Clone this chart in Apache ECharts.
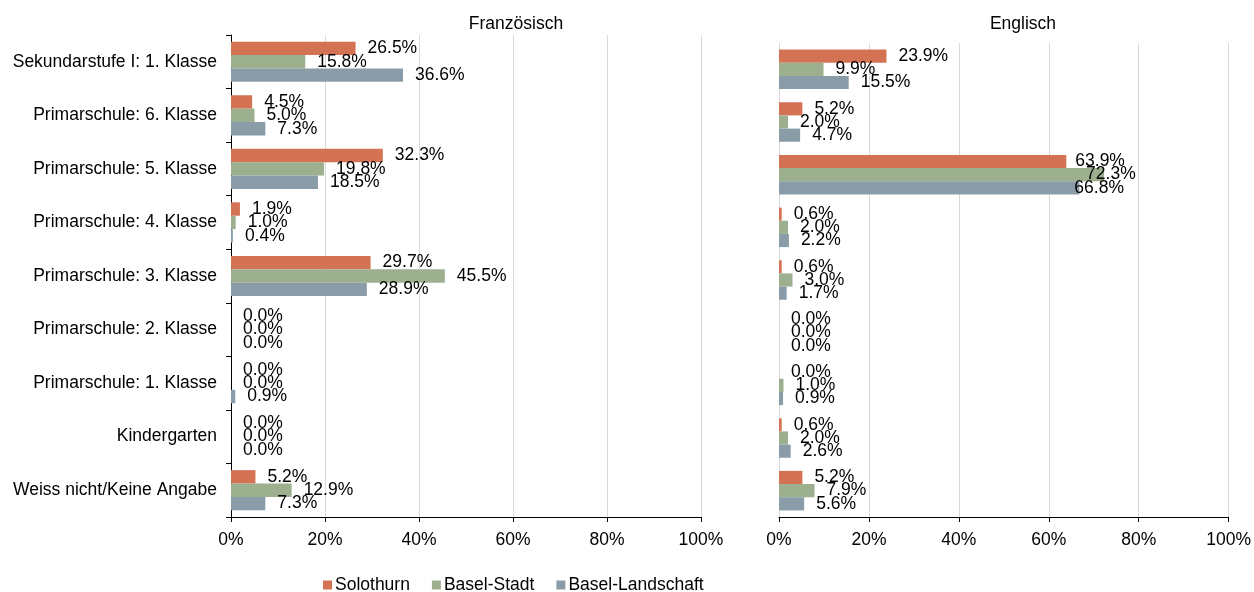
<!DOCTYPE html>
<html>
<head>
    <meta charset="utf-8">
    <title>Französisch / Englisch</title>
    <script src="https://cdn.jsdelivr.net/npm/echarts@6/dist/echarts.min.js"></script>
</head>
<body style="margin:0">
    <div id="main" style="width: 1254px;height:592px;"></div>
    <script type="text/javascript">
        var categories = [
            'Sekundarstufe I: 1. Klasse',
            'Primarschule: 6. Klasse',
            'Primarschule: 5. Klasse',
            'Primarschule: 4. Klasse',
            'Primarschule: 3. Klasse',
            'Primarschule: 2. Klasse',
            'Primarschule: 1. Klasse',
            'Kindergarten',
            'Weiss nicht/Keine Angabe'
        ];
        var regions = ['Solothurn', 'Basel-Stadt', 'Basel-Landschaft'];
        var colors = ['#d47254', '#9cb08f', '#899ca8'];
        var xTicks = [0, 20, 40, 60, 80, 100];

        // Französisch
        var frSolothurn = [26.5, 4.5, 32.3, 1.9, 29.7, 0.0, 0.0, 0.0, 5.2];
        var frBaselStadt = [15.8, 5.0, 19.8, 1.0, 45.5, 0.0, 0.0, 0.0, 12.9];
        var frBaselLand = [36.6, 7.3, 18.5, 0.4, 28.9, 0.0, 0.9, 0.0, 7.3];

        // Englisch
        var enSolothurn = [23.9, 5.2, 63.9, 0.6, 0.6, 0.0, 0.0, 0.6, 5.2];
        var enBaselStadt = [9.9, 2.0, 72.3, 2.0, 3.0, 0.0, 1.0, 2.0, 7.9];
        var enBaselLand = [15.5, 4.7, 66.8, 2.2, 1.7, 0.0, 0.9, 2.6, 5.6];

        var font = 'Liberation Sans, Arial, sans-serif';
        var fs = 17.5;
        var myChart = echarts.init(document.getElementById('main'));

        // labels of the long Englisch bars sit further left in the original
        var labelShift = {'1-0-2': -3, '1-1-2': -30, '1-2-2': -17};

        function makeSeries(gridIdx, values, k) {
            var data = values.map(function (v, i) {
                var item = {value: v};
                var key = gridIdx + '-' + k + '-' + i;
                if (labelShift[key] !== undefined) {
                    item.label = {offset: [labelShift[key], 0]};
                }
                return item;
            });
            return {
                type: 'bar',
                name: regions[k],
                xAxisIndex: gridIdx,
                yAxisIndex: gridIdx,
                data: data,
                barGap: '0%',
                barCategoryGap: '25%',
                itemStyle: {color: colors[k]},
                label: {
                    show: true,
                    position: 'right',
                    distance: 12,
                    color: '#000',
                    fontFamily: font,
                    fontSize: fs,
                    formatter: function (p) { return p.value.toFixed(1) + '%'; }
                }
            };
        }

        function xAxis(gridIdx) {
            return {
                type: 'value',
                gridIndex: gridIdx,
                min: xTicks[0],
                max: xTicks[xTicks.length - 1],
                interval: xTicks[1] - xTicks[0],
                axisLine: {show: true, lineStyle: {color: '#000', width: 1}},
                axisTick: {show: true, length: 5, lineStyle: {color: '#000'}},
                axisLabel: {
                    formatter: '{value}%', color: '#000', fontFamily: font, fontSize: fs, margin: 14
                },
                splitLine: {show: true, lineStyle: {color: '#d9d9d9', width: 1}}
            };
        }

        var option = {
            animation: false,
            textStyle: {fontFamily: font},
            title: [
                {text: 'Französisch', left: 511, top: 10, textAlign: 'center',
                 textStyle: {fontFamily: font, fontSize: fs, fontWeight: 'normal', color: '#000'}},
                {text: 'Englisch', left: 1018, top: 10, textAlign: 'center',
                 textStyle: {fontFamily: font, fontSize: fs, fontWeight: 'normal', color: '#000'}}
            ],
            legend: {
                data: regions,
                left: 323,
                top: 576,
                padding: 0,
                itemWidth: 9,
                itemHeight: 9,
                itemGap: 22,
                icon: 'rect',
                textStyle: {fontFamily: font, fontSize: fs, color: '#000', padding: [0, 0, 0, -2]}
            },
            grid: [
                {left: 231, width: 470, top: 35, height: 482},
                {left: 779, width: 470, top: 43, height: 474}
            ],
            xAxis: [xAxis(0), xAxis(1)],
            yAxis: [
                {
                    type: 'category',
                    gridIndex: 0,
                    inverse: true,
                    data: categories,
                    axisLine: {show: true, lineStyle: {color: '#000', width: 1}},
                    axisTick: {show: true, length: 5, lineStyle: {color: '#000'}},
                    axisLabel: {color: '#000', fontFamily: font, fontSize: fs, margin: 14}
                },
                {
                    type: 'category',
                    gridIndex: 1,
                    inverse: true,
                    data: categories,
                    axisLine: {show: false},
                    axisTick: {show: false},
                    axisLabel: {show: false}
                }
            ],
            series: [
                makeSeries(0, frSolothurn, 0),
                makeSeries(0, frBaselStadt, 1),
                makeSeries(0, frBaselLand, 2),
                makeSeries(1, enSolothurn, 0),
                makeSeries(1, enBaselStadt, 1),
                makeSeries(1, enBaselLand, 2)
            ]
        };
        myChart.setOption(option);
    </script>
</body>
</html>
